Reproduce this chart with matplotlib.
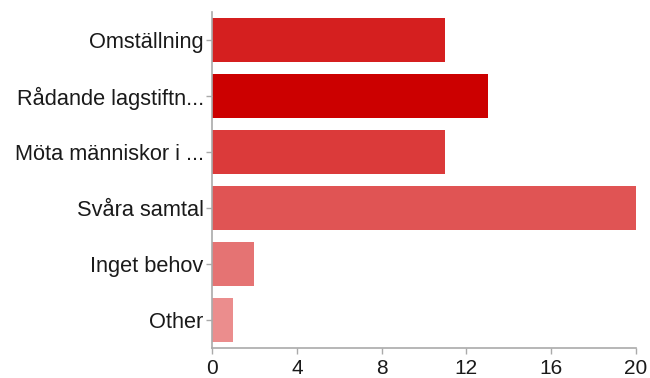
import matplotlib.pyplot as plt

categories = ["Omställning", "Rådande lagstiftn...", "Möta människor i ...",
              "Svåra samtal", "Inget behov", "Other"]
values = [11, 13, 11, 20, 2, 1]
colors = ["#d51f1f", "#cc0000", "#db3a3a", "#e05454", "#e57373", "#eb8d8d"]
xticks = [0, 4, 8, 12, 16, 20]

plt.rcParams['font.family'] = ['Liberation Sans', 'DejaVu Sans']

fig = plt.figure(figsize=(6.5, 3.78), dpi=100)
ax = fig.add_axes([0.3262, 0.0794, 0.6523, 0.8889])

pos = list(range(len(categories)))
ax.barh(pos, values, height=0.78, color=colors)
ax.set_ylim(len(categories) - 0.5, -0.5)
ax.set_xlim(0, 20)
ax.set_yticks(pos)
ax.set_yticklabels(categories, fontsize=15.7, color="#1a1a1a")
ax.set_xticks(xticks)
ax.set_xticklabels([str(t) for t in xticks], fontsize=15, color="#1a1a1a")

for s in ["top", "right"]:
    ax.spines[s].set_visible(False)
for s in ["left", "bottom"]:
    ax.spines[s].set_color("#aaaaaa")
    ax.spines[s].set_linewidth(1.2)
ax.tick_params(axis="both", color="#aaaaaa", length=4, width=1)
ax.tick_params(axis="y", pad=2)
ax.tick_params(axis="x", pad=4)

fig.savefig("out.png", dpi=100)
